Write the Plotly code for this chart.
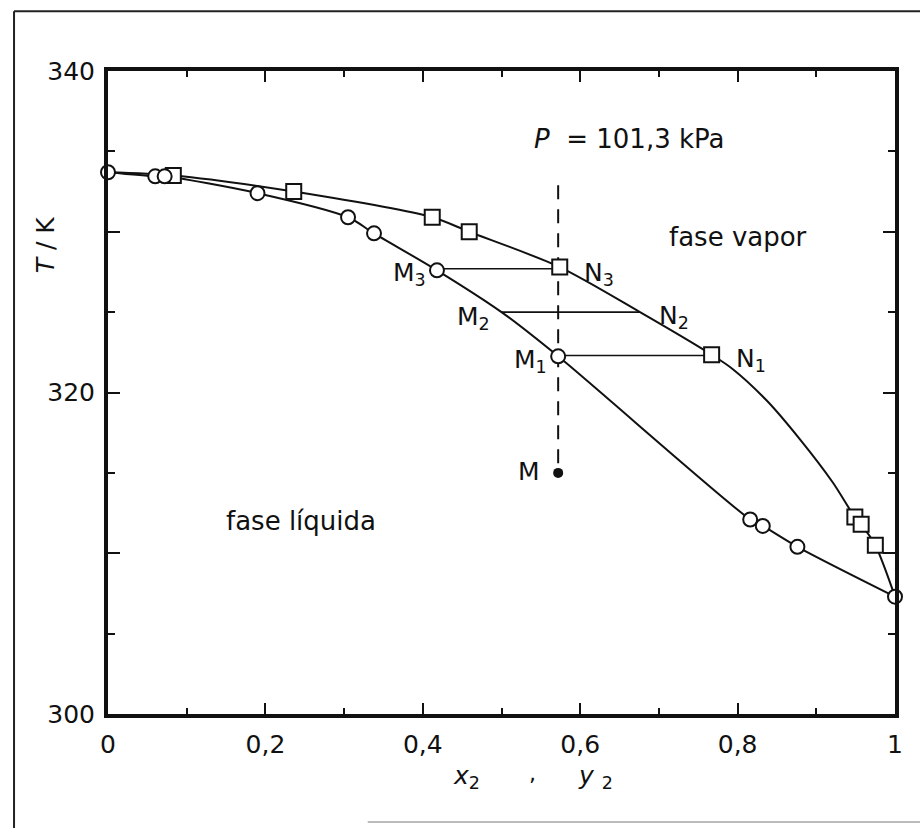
import plotly.graph_objects as go

# ---------------- data ----------------
# liquid (bubble) curve  T vs x2
liq_line_x = [0.0, 0.06, 0.072, 0.19, 0.305, 0.338, 0.418, 0.50, 0.572, 0.816, 0.832, 0.876, 1.0]
liq_line_T = [333.7, 333.45, 333.45, 332.4, 330.9, 329.9, 327.6, 325.0, 322.25, 312.1, 311.7, 310.4, 307.3]
# vapour (dew) curve  T vs y2
vap_line_x = [0.0, 0.083, 0.236, 0.412, 0.459, 0.574, 0.676, 0.767, 0.794, 0.837, 0.879, 0.921, 0.949, 0.957, 0.975, 1.0]
vap_line_T = [333.7, 333.5, 332.5, 330.9, 330.0, 327.8, 325.0, 322.35, 321.45, 319.5, 317.1, 314.4, 312.25, 311.8, 310.5, 307.3]

# measured points
liq_pts_x = [0.0, 0.06, 0.072, 0.19, 0.305, 0.338, 0.418, 0.572, 0.816, 0.832, 0.876, 1.0]
liq_pts_T = [333.7, 333.45, 333.45, 332.4, 330.9, 329.9, 327.6, 322.25, 312.1, 311.7, 310.4, 307.3]
vap_pts_x = [0.083, 0.236, 0.412, 0.459, 0.574, 0.767, 0.949, 0.957, 0.975]
vap_pts_T = [333.5, 332.5, 330.9, 330.0, 327.8, 322.35, 312.25, 311.8, 310.5]

# tie lines M_i - N_i
tie_names = ["1", "2", "3"]
tie_x_liq = [0.572, 0.50, 0.418]
tie_x_vap = [0.767, 0.676, 0.574]
tie_T = [322.3, 325.0, 327.7]

# overall composition M and vertical isopleth
M_x = 0.572
M_T = 315.0
iso_T_top = 332.9

x_tickvals = [0, 0.2, 0.4, 0.6, 0.8, 1.0]
x_ticktext = ["0", "0,2", "0,4", "0,6", "0,8", "1"]
y_tickvals = [300, 310, 320, 330, 340]
y_ticktext = ["300", "", "320", "", "340"]

FONT = "DejaVu Sans"
BLACK = "#111111"

fig = go.Figure()

# curves
fig.add_trace(go.Scatter(x=liq_line_x, y=liq_line_T, mode="lines",
                         line=dict(color=BLACK, width=2, shape="spline", smoothing=0.8),
                         hoverinfo="skip", showlegend=False))
fig.add_trace(go.Scatter(x=vap_line_x, y=vap_line_T, mode="lines",
                         line=dict(color=BLACK, width=2, shape="spline", smoothing=0.8),
                         hoverinfo="skip", showlegend=False))

# tie lines
for xl, xv, t in zip(tie_x_liq, tie_x_vap, tie_T):
    fig.add_trace(go.Scatter(x=[xl, xv], y=[t, t], mode="lines",
                             line=dict(color=BLACK, width=1.6),
                             hoverinfo="skip", showlegend=False))

# dashed isopleth
fig.add_trace(go.Scatter(x=[M_x, M_x], y=[iso_T_top, M_T], mode="lines",
                         line=dict(color=BLACK, width=2, dash="14px,10px"),
                         hoverinfo="skip", showlegend=False))

# markers
fig.add_trace(go.Scatter(x=vap_pts_x, y=vap_pts_T, mode="markers",
                         marker=dict(symbol="square", size=15, color="white",
                                     line=dict(color=BLACK, width=2)),
                         cliponaxis=False, showlegend=False))
fig.add_trace(go.Scatter(x=liq_pts_x, y=liq_pts_T, mode="markers",
                         marker=dict(symbol="circle", size=14, color="white",
                                     line=dict(color=BLACK, width=2)),
                         cliponaxis=False, showlegend=False))
fig.add_trace(go.Scatter(x=[M_x], y=[M_T], mode="markers",
                         marker=dict(symbol="circle", size=10, color=BLACK),
                         showlegend=False))

# ---------------- annotations ----------------
ann = []
def txt(x, y, s, size=25, xanchor="center", yanchor="middle", xref="x", yref="y", angle=0):
    ann.append(dict(x=x, y=y, xref=xref, yref=yref, text=s, showarrow=False,
                    xanchor=xanchor, yanchor=yanchor, textangle=angle,
                    font=dict(family=FONT, size=size, color=BLACK)))

for n, xl, xv, t in zip(tie_names, tie_x_liq, tie_x_vap, tie_T):
    txt(xl - 0.012, t - 0.35, "M<sub>%s</sub>" % n, xanchor="right")
    txt(xv + 0.028 if n != "2" else xv + 0.022, t - 0.3, "N<sub>%s</sub>" % n, xanchor="left")

txt(M_x - 0.02, M_T + 0.1, "M", xanchor="right")
txt(0.80, 329.7, "fase vapor", size=26)
txt(0.245, 312.0, "fase líquida", size=26)
txt(0.662, 335.8, "<i>P</i>  = 101,3 kPa", size=26)

# axis titles (paper coordinates)
txt(-0.080, 0.729, "<i>T</i> / K", size=25, xref="paper", yref="paper", angle=-90)
txt(0.455, -0.098, "<i>x</i><sub>2</sub>", size=25, xref="paper", yref="paper")
txt(0.540, -0.093, ",", size=22, xref="paper", yref="paper")
txt(0.620, -0.098, "<i>y</i> <sub>2</sub>", size=25, xref="paper", yref="paper")

fig.update_layout(annotations=ann)

# scanned page border
shapes = [
    dict(type="line", xref="paper", yref="paper", x0=-0.1194, x1=1.04, y0=1.093, y1=1.093,
         line=dict(color="#222222", width=2)),
    dict(type="line", xref="paper", yref="paper", x0=-0.1194, x1=-0.1194, y0=1.093, y1=-0.19,
         line=dict(color="#222222", width=2)),
    dict(type="line", xref="paper", yref="paper", x0=0.33, x1=1.04, y0=-0.168, y1=-0.168,
         line=dict(color="#bbbbbb", width=2)),
]
fig.update_layout(shapes=shapes)

fig.update_xaxes(range=[0, 1], tickvals=x_tickvals, ticktext=x_ticktext,
                 ticks="inside", ticklen=11, tickwidth=2, tickcolor=BLACK,
                 minor=dict(dtick=0.1, tick0=0, ticks="inside", ticklen=6, tickwidth=2, tickcolor=BLACK),
                 showline=True, linewidth=4, linecolor=BLACK, mirror="ticks",
                 showgrid=False, zeroline=False,
                 ticklabelstandoff=5,
                 tickfont=dict(family=FONT, size=25, color=BLACK))
fig.update_yaxes(range=[300, 340], tickvals=y_tickvals, ticktext=y_ticktext,
                 ticks="inside", ticklen=12, tickwidth=2, tickcolor=BLACK,
                 minor=dict(dtick=5, tick0=300, ticks="inside", ticklen=7, tickwidth=2, tickcolor=BLACK),
                 showline=True, linewidth=4, linecolor=BLACK, mirror="ticks",
                 showgrid=False, zeroline=False,
                 ticklabelstandoff=4,
                 tickfont=dict(family=FONT, size=25, color=BLACK))

fig.update_layout(width=920, height=828,
                  margin=dict(l=108, r=25, t=71, b=114),
                  paper_bgcolor="white", plot_bgcolor="white",
                  showlegend=False)

fig.write_html("out.html")
